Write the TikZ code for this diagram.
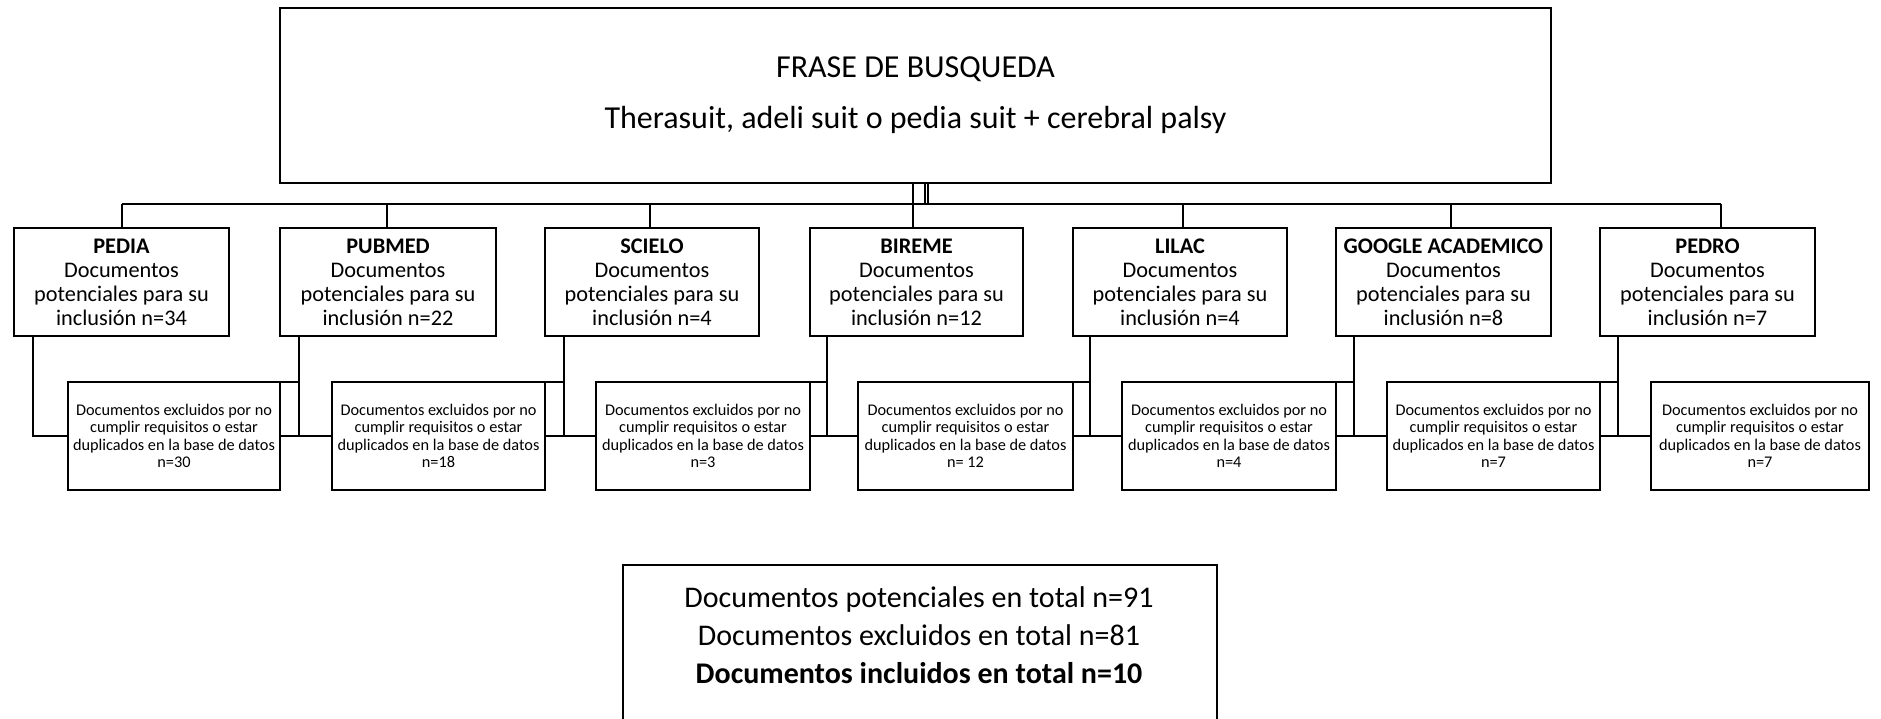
\documentclass[tikz,border=0pt]{standalone}
\usepackage{fontspec}
\setmainfont{Carlito}
\begin{document}
\begin{tikzpicture}[x=1pt,y=-1pt,
  box/.style={draw, line width=2.2pt, inner sep=0pt, outer sep=0pt, align=center},
  dbbox/.style={box, minimum height=108pt, font=\fontsize{22.3}{24}\selectfont},
  exbox/.style={box, minimum height=108pt, font=\fontsize{16.3}{17.5}\selectfont},
  conn/.style={line width=1.6pt}]
\clip (0,0) rectangle (1881,718);
\fill[white] (0,0) rectangle (1881,718);

% top box
\node[box, minimum width=1271pt, minimum height=175pt, font=\fontsize{32}{51}\selectfont] (top) at (915.5,95.5)
  {FRASE DE BUSQUEDA\\Therasuit, adeli suit o pedia suit + cerebral palsy};

% database boxes
\node[dbbox, minimum width=215pt] (pedia)  at (121.5,282) {\textbf{PEDIA}\\Documentos\\potenciales para su\\inclusión n=34};
\node[dbbox, minimum width=216pt] (pubmed) at (388,282)   {\textbf{PUBMED}\\Documentos\\potenciales para su\\inclusión n=22};
\node[dbbox, minimum width=214pt] (scielo) at (652,282)   {\textbf{SCIELO}\\Documentos\\potenciales para su\\inclusión n=4};
\node[dbbox, minimum width=213pt] (bireme) at (916.5,282) {\textbf{BIREME}\\Documentos\\potenciales para su\\inclusión n=12};
\node[dbbox, minimum width=214pt] (lilac)  at (1180,282)  {\textbf{LILAC}\\Documentos\\potenciales para su\\inclusión n=4};
\node[dbbox, minimum width=215pt] (google) at (1443.5,282){\textbf{GOOGLE ACADEMICO}\\Documentos\\potenciales para su\\inclusión n=8};
\node[dbbox, minimum width=215pt] (pedro)  at (1707.5,282){\textbf{PEDRO}\\Documentos\\potenciales para su\\inclusión n=7};

% exclusion boxes
\node[exbox, minimum width=212pt] (pedia-x)  at (174,436)   {Documentos excluidos por no\\cumplir requisitos o estar\\duplicados en la base de datos\\n=30};
\node[exbox, minimum width=213pt] (pubmed-x) at (438.5,436) {Documentos excluidos por no\\cumplir requisitos o estar\\duplicados en la base de datos\\n=18};
\node[exbox, minimum width=214pt] (scielo-x) at (703,436)   {Documentos excluidos por no\\cumplir requisitos o estar\\duplicados en la base de datos\\n=3};
\node[exbox, minimum width=215pt] (bireme-x) at (965.5,436) {Documentos excluidos por no\\cumplir requisitos o estar\\duplicados en la base de datos\\n= 12};
\node[exbox, minimum width=214pt] (lilac-x)  at (1229,436)  {Documentos excluidos por no\\cumplir requisitos o estar\\duplicados en la base de datos\\n=4};
\node[exbox, minimum width=213pt] (google-x) at (1493.5,436){Documentos excluidos por no\\cumplir requisitos o estar\\duplicados en la base de datos\\n=7};
\node[exbox, minimum width=218pt] (pedro-x)  at (1760,436)  {Documentos excluidos por no\\cumplir requisitos o estar\\duplicados en la base de datos\\n=7};

% totals box
\node[box, anchor=north west, minimum width=594pt, minimum height=200pt] (total) at (623,565) {};
\node[align=center, inner sep=0pt, font=\fontsize{30}{38}\selectfont] (totaltext) at (919,635)
  {Documentos potenciales en total n=91\\Documentos excluidos en total n=81\\\textbf{Documentos incluidos en total n=10}};

% connector coordinates
\foreach \n/\v/\d in {pedia/122/33, pubmed/387/299, scielo/650/564, bireme/913/827, lilac/1183/1090, google/1451/1354, pedro/1721/1618}{
  \coordinate (\n-v) at (\v,204);
  \coordinate (\n-d) at (\d,336);
}
\coordinate (j1) at (925,204);
\coordinate (j2) at (928,204);

% bus
\draw[conn] (pedia-v) -- (pedro-v);
\draw[conn] (top.south -| j1) -- (j1);
\draw[conn] (top.south -| j2) -- (j2);
\draw[conn] (top.south -| bireme-v) -- (bireme-v |- bireme.north);
\foreach \n in {pedia,pubmed,scielo,lilac,google,pedro}
  \draw[conn] (\n-v) -- (\n-v |- \n.north);

% elbows to exclusion boxes
\foreach \n in {pedia,pubmed,scielo,bireme,lilac,google,pedro}
  \draw[conn] (\n-d) |- (\n-x.west);

% stubs from previous exclusion box
\foreach \p/\q in {pedia/pubmed, pubmed/scielo, scielo/bireme, bireme/lilac, lilac/google, google/pedro}{
  \draw[conn] (\p-x.north east) -- (\p-x.north east -| \q-d);
  \draw[conn] (\p-x.east) -- (\p-x.east -| \q-d);
}
\end{tikzpicture}
\end{document}
